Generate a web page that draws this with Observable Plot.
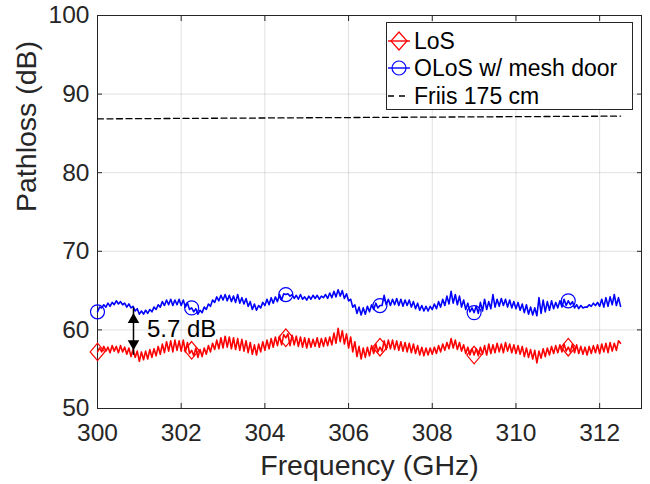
<!DOCTYPE html>
<html><head><meta charset="utf-8">
<script src="https://cdn.jsdelivr.net/npm/d3@7"></script>
<script src="https://cdn.jsdelivr.net/npm/@observablehq/plot@0.6"></script>
<style>
body{margin:0;background:#fff;font-family:"Liberation Sans",Arial,sans-serif;}
#wrap{position:relative;width:650px;height:484px;}
#legend{position:absolute;left:386px;top:22px;width:245px;height:86px;border:1px solid #262626;background:#fff;color:#000;font-size:23px;}
#legend .row{position:absolute;left:0;height:28px;display:flex;align-items:center;white-space:nowrap;}
#legend svg{margin-left:1px;margin-right:3px;}
</style></head>
<body><div id="wrap"></div>
<script>
// ---- data ----
const freqStart = 300;
const freqStep = 0.05;
const losValues = [
57.2,57.7,57.2,57.9,57.3,57.8,57.1,58.0,57.3,57.9,
57.1,58.0,57.2,57.8,56.9,57.7,56.6,57.5,56.5,57.3,
56.0,57.2,56.2,57.3,56.3,57.5,56.5,57.6,56.7,57.9,
56.9,58.2,57.1,58.5,57.3,58.6,57.2,58.7,57.4,58.6,
57.3,58.7,57.2,58.4,57.0,57.4,56.7,57.7,56.5,57.5,
56.6,57.7,56.9,58.0,57.2,58.3,57.5,58.7,57.6,59.0,
57.7,59.2,57.8,59.1,57.6,59.0,57.5,58.9,57.4,58.8,
57.3,58.6,57.1,58.4,56.9,58.1,56.8,58.2,57.2,58.5,
57.4,58.7,57.6,58.9,57.8,59.1,58.0,59.2,58.1,59.4,
59.0,59.5,58.0,59.3,58.1,59.2,57.9,59.1,57.8,59.0,
57.7,58.9,57.8,58.8,57.9,59.0,57.8,58.9,57.9,59.0,
58.0,59.1,58.1,59.6,58.3,60.2,58.5,59.9,58.2,59.5,
57.7,59.1,57.2,58.5,56.6,57.9,56.3,57.7,56.5,57.8,
56.7,58.0,57.0,58.2,57.2,57.8,57.3,58.6,57.5,58.7,
57.6,58.7,57.5,58.6,57.4,58.5,57.3,58.4,57.2,58.3,
57.1,58.2,57.0,58.0,56.8,57.8,56.7,57.7,56.8,57.7,
56.9,57.8,57.0,58.0,57.2,58.2,57.4,58.4,57.6,58.9,
57.7,58.7,57.5,58.4,57.3,58.1,57.0,57.8,56.8,57.6,
56.8,57.6,56.7,57.8,56.9,58.0,56.8,58.2,57.0,58.1,
57.1,58.3,57.2,58.2,57.1,58.4,57.3,58.2,57.1,58.1,
57.0,58.0,56.9,57.9,56.6,57.7,56.5,57.5,56.3,57.4,
55.8,57.3,56.4,57.6,56.6,57.7,56.8,57.9,57.0,58.0,
57.1,58.1,57.2,58.2,57.3,57.8,57.2,58.2,57.1,58.1,
57.0,57.9,56.9,57.8,56.8,57.9,57.0,58.0,57.1,58.1,
57.0,58.2,57.2,58.3,57.1,58.4,57.3,58.3,57.4,58.6,
58.3];
const olosValues = [
62.3,62.9,62.8,63.2,62.9,63.4,63.0,63.5,63.2,63.7,
63.3,63.6,63.2,63.4,62.9,63.3,62.8,63.0,62.4,62.7,
62.0,62.4,62.0,62.5,62.1,62.6,62.3,62.9,62.6,63.2,
62.9,63.6,63.1,63.8,63.2,63.9,63.1,63.8,63.2,63.9,
63.1,63.8,62.9,63.4,62.6,62.8,62.3,62.7,62.0,62.5,
62.2,62.9,62.6,63.3,63.0,63.8,63.5,64.2,63.7,64.4,
63.8,64.5,63.7,64.4,63.6,64.3,63.5,64.5,63.4,64.1,
63.3,64.0,63.0,63.6,62.6,63.3,62.5,63.1,62.8,63.5,
63.1,63.9,63.2,64.1,63.4,64.2,63.6,64.5,63.8,64.6,
64.5,64.6,64.3,64.5,64.0,64.4,63.9,64.5,63.9,64.2,
63.8,64.3,63.9,64.4,64.0,64.4,63.9,64.3,64.1,64.5,
64.0,64.7,64.1,64.9,64.2,65.1,64.3,65.0,64.0,64.6,
63.7,63.9,62.9,63.2,62.1,62.9,61.9,62.8,62.0,63.0,
62.3,63.2,62.6,63.4,62.8,63.1,63.1,64.4,63.2,63.9,
63.1,63.9,63.2,64.0,63.1,63.9,63.0,63.8,63.1,63.8,
62.9,63.6,62.7,63.4,62.5,63.1,62.4,63.0,62.4,63.0,
62.6,63.3,62.7,63.6,62.9,63.9,63.1,64.3,63.3,64.9,
63.4,64.5,63.2,64.3,62.9,63.8,62.6,63.4,62.3,62.8,
62.2,63.0,62.1,63.5,62.4,63.9,62.6,63.6,62.7,64.5,
62.9,63.9,63.0,64.0,63.1,63.9,62.9,63.8,62.8,63.6,
62.7,63.5,62.5,63.3,62.2,63.2,62.0,62.9,61.9,62.8,
61.8,64.1,62.1,63.8,62.3,63.6,62.5,63.7,62.7,63.5,
62.8,63.7,62.9,63.9,63.1,63.7,63.2,63.6,62.8,63.2,
62.7,63.1,62.8,62.9,62.9,63.2,63.0,63.4,63.1,63.5,
63.0,63.9,62.9,64.1,63.0,64.2,63.2,64.5,63.1,64.1,
63.0];
const markerEvery = 45;
const friisFreq = [300, 312.5];
const friisValues = [86.85, 87.2];
const xTicks = [300, 302, 304, 306, 308, 310, 312];
const yTicks = [50, 60, 70, 80, 90, 100];
const seriesNames = ["LoS", "OLoS w/ mesh door", "Friis 175 cm"];
const seriesColors = ["#ff0000", "#0000ff", "#000000"];
const annotX = [300.86];
const annotLow = [57.4];
const annotHigh = [62.15];
const annotTextX = [301.18];
const annotTextY = [60.05];
const annotLabel = ["5.7 dB"];

// ---- build tables ----
const toRows = vals => vals.map((v, i) => ({f: +(freqStart + i * freqStep).toFixed(2), v}));
const los = toRows(losValues);
const olos = toRows(olosValues);
const losMarks = los.filter((d, i) => i % markerEvery === 0);
const olosMarks = olos.filter((d, i) => i % markerEvery === 0);
const friis = friisFreq.map((f, i) => ({f, v: friisValues[i]}));
const annot = annotX.map((x, i) => ({x, lo: annotLow[i], hi: annotHigh[i], tx: annotTextX[i], ty: annotTextY[i], label: annotLabel[i]}));

const tallDiamond = {draw(ctx, size) {
  const r = Math.sqrt(size / Math.PI);
  const w = r * 1.12, h = r * 1.35;
  ctx.moveTo(0, -h); ctx.lineTo(w, 0); ctx.lineTo(0, h); ctx.lineTo(-w, 0); ctx.closePath();
}};

const axisColor = "#262626";
const plot = Plot.plot({
  width: 650, height: 484,
  marginLeft: 97, marginRight: 9, marginTop: 15, marginBottom: 76,
  style: {fontFamily: '"Liberation Sans", Arial, sans-serif', background: "#fff", color: axisColor, overflow: "visible"},
  x: {domain: [300, 313]},
  y: {domain: [50, 100]},
  marks: [
    Plot.gridX(xTicks, {stroke: "#000", strokeOpacity: 0.12}),
    Plot.gridY(yTicks, {stroke: "#000", strokeOpacity: 0.12}),
    Plot.axisX(xTicks, {anchor: "bottom", tickSize: -5, tickPadding: 20, fontSize: 24.5, label: null, stroke: axisColor, fill: axisColor}),
    Plot.axisX(xTicks, {anchor: "top", tickSize: -5, tickFormat: () => "", label: null, stroke: axisColor}),
    Plot.axisY(yTicks, {anchor: "left", tickSize: -5, tickPadding: 13, fontSize: 24.5, label: null, stroke: axisColor, fill: axisColor}),
    Plot.axisY(yTicks, {anchor: "right", tickSize: -5, tickFormat: () => "", label: null, stroke: axisColor}),
    Plot.frame({stroke: axisColor, strokeWidth: 1}),
    Plot.line(friis, {x: "f", y: "v", stroke: seriesColors[2], strokeWidth: 1.3, strokeDasharray: "6,3.5"}),
    Plot.line(olos, {x: "f", y: "v", stroke: seriesColors[1], strokeWidth: 1.6}),
    Plot.line(los, {x: "f", y: "v", stroke: seriesColors[0], strokeWidth: 1.6}),
    Plot.dot(losMarks, {x: "f", y: "v", symbol: tallDiamond, r: 6.5, stroke: seriesColors[0], strokeWidth: 1.2, fill: "none"}),
    Plot.dot(olosMarks, {x: "f", y: "v", symbol: "circle", r: 7, stroke: seriesColors[1], strokeWidth: 1.2, fill: "none"}),
    Plot.ruleX(annot, {x: "x", y1: "lo", y2: "hi", stroke: "#000", strokeWidth: 1.5, insetTop: 5, insetBottom: 5}),
    Plot.dot(annot, {x: "x", y: "hi", symbol: "triangle", r: 4.3, fill: "#000", stroke: null, dy: 6.7}),
    Plot.dot(annot, {x: "x", y: "lo", symbol: "triangle", r: 4.3, fill: "#000", stroke: null, rotate: 180, dy: -6.7}),
    Plot.text(annot, {x: "tx", y: "ty", text: "label", textAnchor: "start", fontSize: 24, fill: "#000"}),
    Plot.text(["Frequency (GHz)"], {frameAnchor: "bottom", dy: 66, fontSize: 28.5, fill: axisColor}),
    Plot.text(["Pathloss (dB)"], {frameAnchor: "left", dx: -71, rotate: -90, fontSize: 28.5, fill: axisColor})
  ]
});
const wrap = document.getElementById("wrap");
wrap.appendChild(plot);

// ---- legend ----
const legend = document.createElement("div");
legend.id = "legend";
const rowCenters = [18, 45, 73];
seriesNames.forEach((name, i) => {
  const row = document.createElement("div");
  row.className = "row";
  row.style.top = (rowCenters[i] - 14) + "px";
  let sym = "";
  if (i === 0) sym = `<line x1="0" y1="11" x2="22" y2="11" stroke="${seriesColors[0]}" stroke-width="1.4"/><path d="M11,2 L19,11 L11,20 L3,11 Z" fill="none" stroke="${seriesColors[0]}" stroke-width="1.2"/>`;
  if (i === 1) sym = `<line x1="0" y1="11" x2="22" y2="11" stroke="${seriesColors[1]}" stroke-width="1.4"/><circle cx="11" cy="11" r="7" fill="none" stroke="${seriesColors[1]}" stroke-width="1.2"/>`;
  if (i === 2) sym = `<line x1="0" y1="11" x2="22" y2="11" stroke="#000" stroke-width="1.3" stroke-dasharray="6,5"/>`;
  row.innerHTML = `<svg width="23" height="22">${sym}</svg><span>${name}</span>`;
  legend.appendChild(row);
});
wrap.appendChild(legend);
</script>
</body></html>
